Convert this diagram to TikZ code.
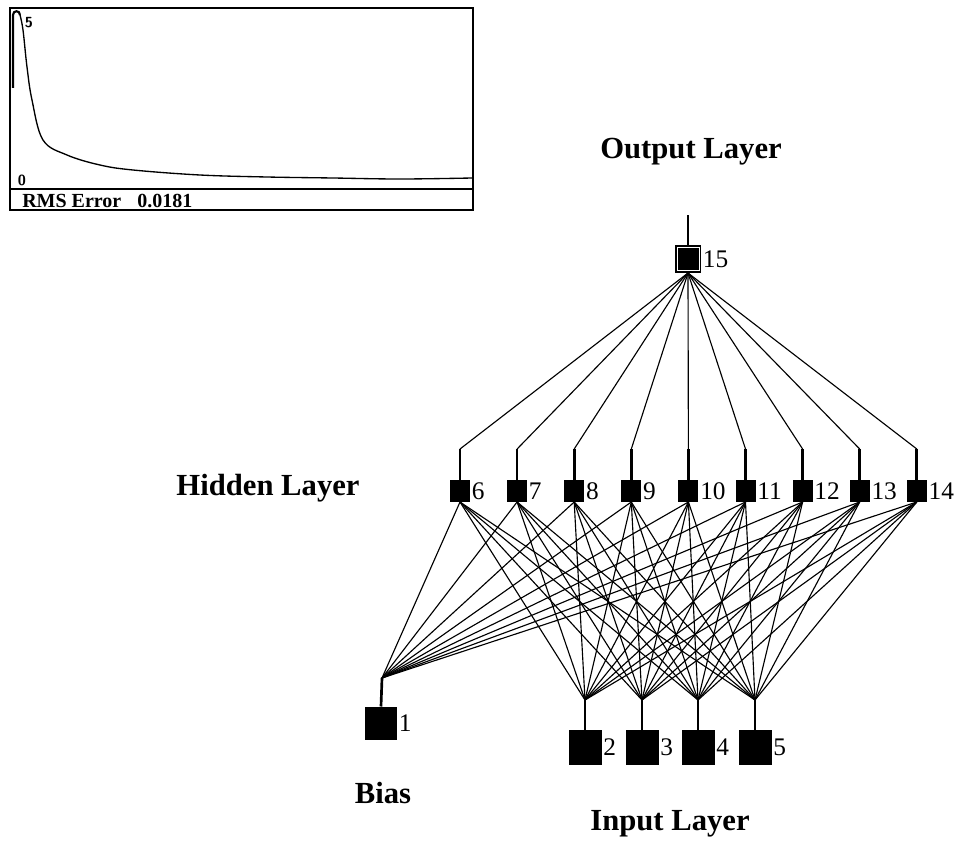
\documentclass[tikz,border=0pt]{standalone}
\usepackage{fontspec}
\setmainfont{Liberation Serif}
\begin{document}
\begin{tikzpicture}[x=0.75pt,y=-0.75pt,
  blk/.style={fill=black,inner sep=0pt,outer sep=0pt},
  hid/.style={blk,minimum width=15pt,minimum height=16.5pt},
  inp/.style={blk,minimum width=24.75pt,minimum height=26.25pt},
  num/.style={font=\fontsize{19}{19}\selectfont,inner sep=0pt},
  layer/.style={font=\fontsize{23}{23}\selectfont\bfseries,anchor=base,inner sep=0pt},
  wire/.style={line width=0.85pt},
  stemline/.style={line width=2pt},
  label distance=1.2pt
]
\useasboundingbox (0,0) rectangle (957,842);

% ---- error chart ----
\draw[line width=1.1pt] (10,8) rectangle (473,210);
\draw[line width=1.1pt] (10,189) -- (473,189);
\draw[line width=1.6pt] (13,88) -- (13,15) .. controls (13,10) and (20,10) .. (20,15);
\draw[line width=1pt] plot[smooth,tension=0.6] coordinates {(20,15) (23,30) (27,67) (32,100) (43,140) (67,155) (100,165) (133,170) (200,175) (267,177) (333,178) (400,179) (472,178)};
\node[font=\sffamily\bfseries\fontsize{11}{11}\selectfont,inner sep=0pt] (five) at (29,23) {5};
\node[font=\sffamily\bfseries\fontsize{11}{11}\selectfont,inner sep=0pt] (zero) at (22,180) {0};
\node[font=\fontsize{15}{15}\selectfont\bfseries,anchor=base west,inner sep=0pt] (rms) at (22,207) {RMS Error};
\node[font=\fontsize{15}{15}\selectfont\bfseries,anchor=base west,inner sep=0pt] (rmsv) at (137,207) {0.0181};

% ---- layer titles ----
\node[layer] (tout) at (691,158) {Output Layer};
\node[layer] (thid) at (268,495) {Hidden Layer};
\node[layer] (tbias) at (383,803) {Bias};
\node[layer] (tin) at (670,830) {Input Layer};

% ---- output node ----
\node[blk,minimum width=19.5pt,minimum height=21pt,label={[num]east:15}] (o) at (688,259) {};
\node[draw=white,line width=0.45pt,inner sep=0pt,minimum width=16.5pt,minimum height=17.5pt] (oin) at (688,258.5) {};
\coordinate (otop) at (688,215);
\draw[stemline] (otop) -- (o.north);

% ---- hidden nodes ----
\foreach \i [count=\k from 0] in {6,...,14} {
  \pgfmathsetmacro\xx{460+57.1*\k}
  \node[hid,label={[num]east:\i}] (h\i) at (\xx,491) {};
  \coordinate (t\i) at (\xx,449);
  \draw[stemline] (t\i) -- (h\i.north);
  \draw[wire] (o.south) -- (t\i);
}

% ---- bias node ----
\node[blk,minimum width=24pt,minimum height=24.75pt,label={[num]east:1}] (b1) at (381,723) {};
\coordinate (bt) at (382,678);
\draw[stemline] (bt) -- (b1.north);

% ---- input nodes ----
\foreach \i/\xx in {2/585,3/642,4/698,5/755} {
  \node[inp,label={[num]east:\i}] (n\i) at (\xx,747) {};
  \coordinate (it\i) at (\xx,700);
  \draw[stemline] (it\i) -- (n\i.north);
}

% ---- hidden to input / bias ----
\foreach \i in {6,...,14} {
  \draw[wire] (h\i.south) -- (bt);
  \foreach \j in {2,...,5} {
    \draw[wire] (h\i.south) -- (it\j);
  }
}
\end{tikzpicture}
\end{document}
